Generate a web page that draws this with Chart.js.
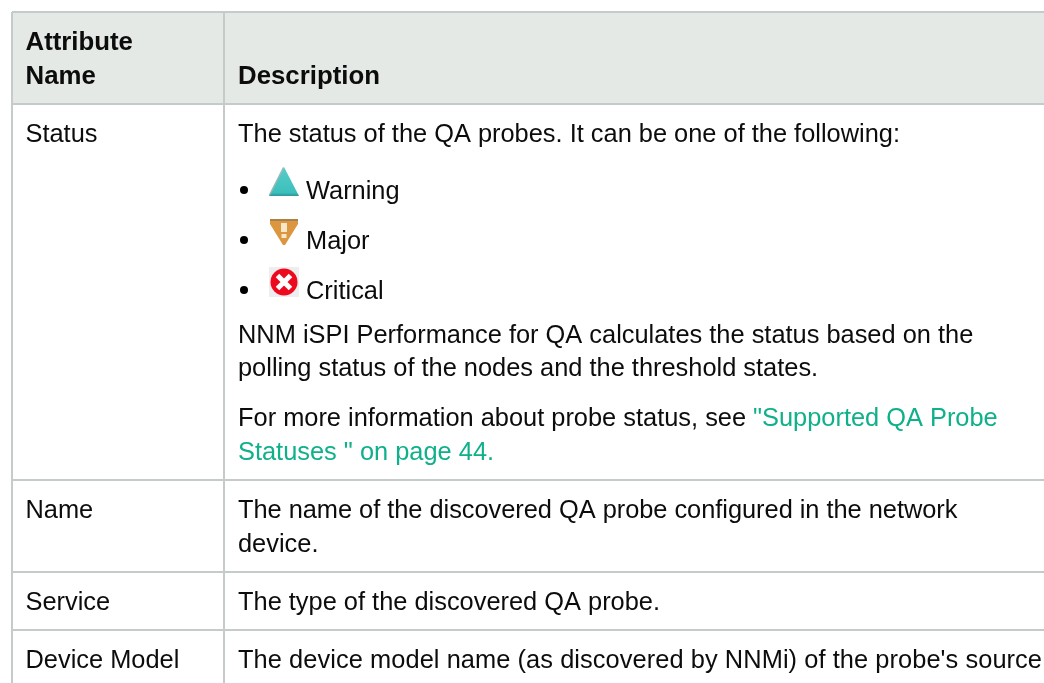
<!DOCTYPE html>
<html>
<head>
<meta charset="utf-8">
<title>QA probe attributes</title>
<script src="https://cdn.jsdelivr.net/npm/chart.js@4"></script>
<style>
  html, body { margin: 0; padding: 0; background: #fff; }
  #wrap { width: 1044px; height: 683px; }
</style>
</head>
<body>
<div id="wrap"><canvas id="table"></canvas></div>
<script>
// Table content
const headerLabels = ["Attribute", "Name", "Description"];
const attributeNames = ["Status", "Name", "Service", "Device Model"];
const statusLabels = ["Warning", "Major", "Critical"];
const statusIntro = "The status of the QA probes. It can be one of the following:";
const statusNote = [
    "NNM iSPI Performance for QA calculates the status based on the",
    "polling status of the nodes and the threshold states."
];
const infoText = "For more information about probe status, see ";
const infoLink = ['"Supported QA Probe', 'Statuses " on page 44.'];
const otherDescriptions = [
    "The name of the discovered QA probe configured in the network",
    "device.",
    "The type of the discovered QA probe.",
    "The device model name (as discovered by NNMi) of the probe's source"
];

// Table layout, in page pixels (the axes run 1:1 with the page)
const columnLines = [12, 224];
const rowLines = [12, 104, 480, 572, 630];
const tableRight = 1044;
const tableBottom = 683;
const col1X = 25.5;
const col2X = 238;
const statusTextX = 306;
const linkX = 753;
const bulletX = 244;
const iconX = 284;
const statusBaselines = [199, 249, 299];
const iconY = [182, 232, 282];
const bulletY = [190, 240, 290];

const GRID = "#c5caca";
const HEADER = "#e5e9e6";
const TEXT = "#0c0c0c";
const LINK = "#0fb08a";
const FONT = '"Liberation Sans", Arial, sans-serif';

function makeIcon(draw) {
    const c = document.createElement("canvas");
    c.width = 32;
    c.height = 32;
    draw(c.getContext("2d"));
    return c;
}

const warningIcon = makeIcon(ctx => {
    const g = ctx.createLinearGradient(0, 1, 0, 31);
    g.addColorStop(0, "#58cdc9");
    g.addColorStop(0.85, "#3cbfbc");
    g.addColorStop(1, "#2a8a8c");
    ctx.fillStyle = g;
    ctx.beginPath();
    ctx.moveTo(16, 1);
    ctx.lineTo(31, 30);
    ctx.lineTo(1, 30);
    ctx.closePath();
    ctx.fill();
    ctx.strokeStyle = "#9cb8b6";
    ctx.lineWidth = 1.5;
    ctx.beginPath();
    ctx.moveTo(15.5, 1.5);
    ctx.lineTo(1.5, 29);
    ctx.stroke();
});

const majorIcon = makeIcon(ctx => {
    ctx.fillStyle = "#dc963f";
    ctx.beginPath();
    ctx.moveTo(2, 3);
    ctx.lineTo(30, 3);
    ctx.lineTo(30, 8);
    ctx.lineTo(17, 29);
    ctx.lineTo(15, 29);
    ctx.lineTo(2, 8);
    ctx.closePath();
    ctx.fill();
    ctx.fillStyle = "#a9814f";
    ctx.fillRect(2, 3, 28, 2);
    ctx.fillStyle = "#f6e7c8";
    ctx.fillRect(13, 7, 6, 9);
    ctx.fillRect(13.5, 18, 5, 4);
});

const criticalIcon = makeIcon(ctx => {
    ctx.fillStyle = "#eeeeee";
    ctx.fillRect(1, 1, 30, 30);
    ctx.fillStyle = "#ee0a1e";
    ctx.beginPath();
    ctx.arc(16, 16, 13.5, 0, Math.PI * 2);
    ctx.fill();
    ctx.strokeStyle = "#ffffff";
    ctx.lineWidth = 5;
    ctx.beginPath();
    ctx.moveTo(9.5, 9.5);
    ctx.lineTo(22.5, 22.5);
    ctx.moveTo(22.5, 9.5);
    ctx.lineTo(9.5, 22.5);
    ctx.stroke();
});

// Writes the table text through the axes
const tableText = {
    id: "tableText",
    afterDatasetsDraw(chart) {
        const { ctx, scales: { x, y } } = chart;
        const put = (text, px, py, font, color, spacing) => {
            ctx.font = font;
            ctx.fillStyle = color || TEXT;
            ctx.letterSpacing = spacing || "0px";
            ctx.fillText(text, x.getPixelForValue(px), y.getPixelForValue(py));
        };
        const body = "25.4px " + FONT;
        const bold = "bold 25.8px " + FONT;
        ctx.save();
        ctx.textBaseline = "alphabetic";
        ctx.textAlign = "left";

        put(headerLabels[0], col1X, 50, bold);
        put(headerLabels[1], col1X, 84, bold);
        put(headerLabels[2], col2X, 84, bold);

        put(attributeNames[0], col1X, 142, body);
        put(attributeNames[1], col1X, 518, body);
        put(attributeNames[2], col1X, 610, body);
        put(attributeNames[3], col1X, 668, body);

        put(statusIntro, col2X, 142, body);
        statusLabels.forEach((label, i) => put(label, statusTextX, statusBaselines[i], body));
        put(statusNote[0], col2X, 343, body);
        put(statusNote[1], col2X, 376, body);
        put(infoText, col2X, 426, body);
        put(infoLink[0], linkX, 426, body, LINK);
        put(infoLink[1], col2X, 460, body, LINK);
        put(otherDescriptions[0], col2X, 518, body, TEXT, "-0.03px");
        put(otherDescriptions[1], col2X, 552, body);
        put(otherDescriptions[2], col2X, 610, body);
        put(otherDescriptions[3], col2X, 668, body, TEXT, "0.07px");
        ctx.restore();
    }
};

new Chart(document.getElementById("table"), {
    type: "scatter",
    plugins: [tableText],
    data: {
        datasets: [
            {
                // header band
                type: "line",
                data: [{ x: columnLines[0], y: rowLines[0] }, { x: tableRight, y: rowLines[0] }],
                fill: { value: rowLines[1] },
                backgroundColor: HEADER,
                borderWidth: 0,
                pointRadius: 0
            },
            {
                // bullets
                data: bulletY.map(v => ({ x: bulletX, y: v })),
                pointStyle: "circle",
                pointRadius: 4,
                backgroundColor: "#000000",
                borderWidth: 0
            },
            {
                // status icons
                data: iconY.map(v => ({ x: iconX, y: v })),
                pointStyle: [warningIcon, majorIcon, criticalIcon]
            }
        ]
    },
    options: {
        responsive: true,
        maintainAspectRatio: false,
        animation: false,
        events: [],
        layout: { autoPadding: false, padding: { left: columnLines[0], top: rowLines[0], right: 0, bottom: 0 } },
        plugins: { legend: { display: false }, tooltip: { enabled: false }, title: { display: false } },
        scales: {
            x: {
                type: "linear",
                min: columnLines[0],
                max: tableRight,
                border: { display: false },
                grid: { color: GRID, lineWidth: 2, drawTicks: false, z: 1 },
                ticks: { display: false },
                afterBuildTicks: axis => { axis.ticks = columnLines.map(v => ({ value: v })); }
            },
            y: {
                type: "linear",
                reverse: true,
                min: rowLines[0],
                max: tableBottom,
                border: { display: false },
                grid: { color: GRID, lineWidth: 2, drawTicks: false, z: 1 },
                ticks: { display: false },
                afterBuildTicks: axis => { axis.ticks = rowLines.map(v => ({ value: v })); }
            }
        }
    }
});
</script>
</body>
</html>
